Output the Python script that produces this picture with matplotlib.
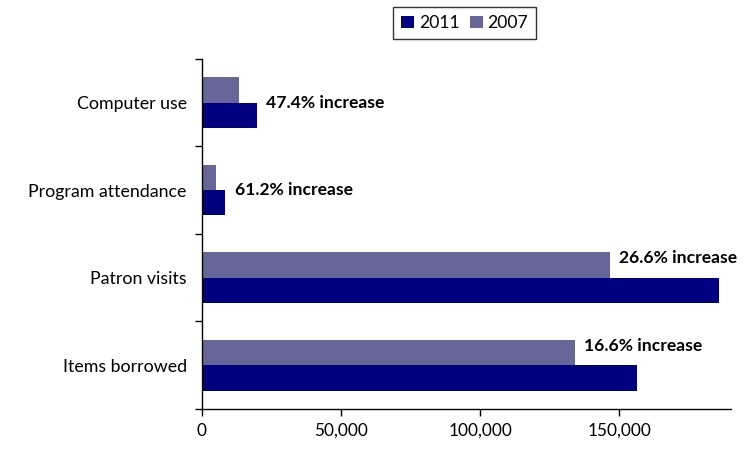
import numpy as np
import matplotlib.pyplot as plt
from matplotlib.ticker import FuncFormatter

plt.rcParams['font.family'] = ['Lato', 'DejaVu Sans']

categories = ['Items borrowed', 'Patron visits', 'Program attendance', 'Computer use']
values_2011 = [156400, 185800, 8380, 19600]
values_2007 = [134200, 146700, 5200, 13300]
increase_labels = ['16.6% increase', '26.6% increase', '61.2% increase', '47.4% increase']

navy = '#000080'
slate = '#666699'

fig = plt.figure(figsize=(7.52, 4.49), dpi=100)
ax = fig.add_axes([0.2686, 0.0891, 0.7031, 0.780])

y = np.arange(len(categories))
h = 0.29
ax.barh(y - h / 2, values_2011, height=h, color=navy, label='2011')
ax.barh(y + h / 2, values_2007, height=h, color=slate, label='2007')

# percentage notes: small bars get it beside the 2011 bar, big ones just above the 2007 bar end
for i, txt in enumerate(increase_labels):
    if values_2011[i] < 50000:
        ax.annotate(txt, (values_2011[i], y[i]), xytext=(7, 0), textcoords='offset points',
                    va='center', ha='left', fontsize=12.6, fontweight='bold')
    else:
        ax.annotate(txt, (values_2007[i], y[i] + h / 2 + 0.075), xytext=(6, 0), textcoords='offset points',
                    va='center', ha='left', fontsize=12.6, fontweight='bold')

ax.set_xlim(0, 190000)
ax.set_ylim(-0.5, len(categories) - 0.5)
ax.set_xticks([0, 50000, 100000, 150000])
ax.xaxis.set_major_formatter(FuncFormatter(lambda v, p: f'{int(v):,}'))
ax.tick_params(axis='x', direction='out', length=5, width=1, labelsize=12.4, pad=5)

# category ticks sit on the group boundaries, names at the centres
ax.set_yticks(np.arange(-0.5, len(categories), 1.0))
ax.set_yticklabels([])
ax.set_yticks(y, minor=True)
ax.set_yticklabels(categories, minor=True)
ax.tick_params(axis='y', which='major', direction='out', length=5, width=1)
ax.tick_params(axis='y', which='minor', length=0, labelsize=12.8, pad=11)

for side in ['top', 'right']:
    ax.spines[side].set_visible(False)
for side in ['left', 'bottom']:
    ax.spines[side].set_linewidth(1)

leg = fig.legend(loc='upper center', bbox_to_anchor=(0.618, 0.984), ncol=2, fontsize=12.6,
                 frameon=True, fancybox=False, edgecolor='black', handlelength=0.75,
                 handleheight=0.75, handletextpad=0.25, columnspacing=0.6, borderpad=0.45,
                 borderaxespad=0)
leg.get_frame().set_linewidth(1)

fig.savefig('out.png', dpi=100)
